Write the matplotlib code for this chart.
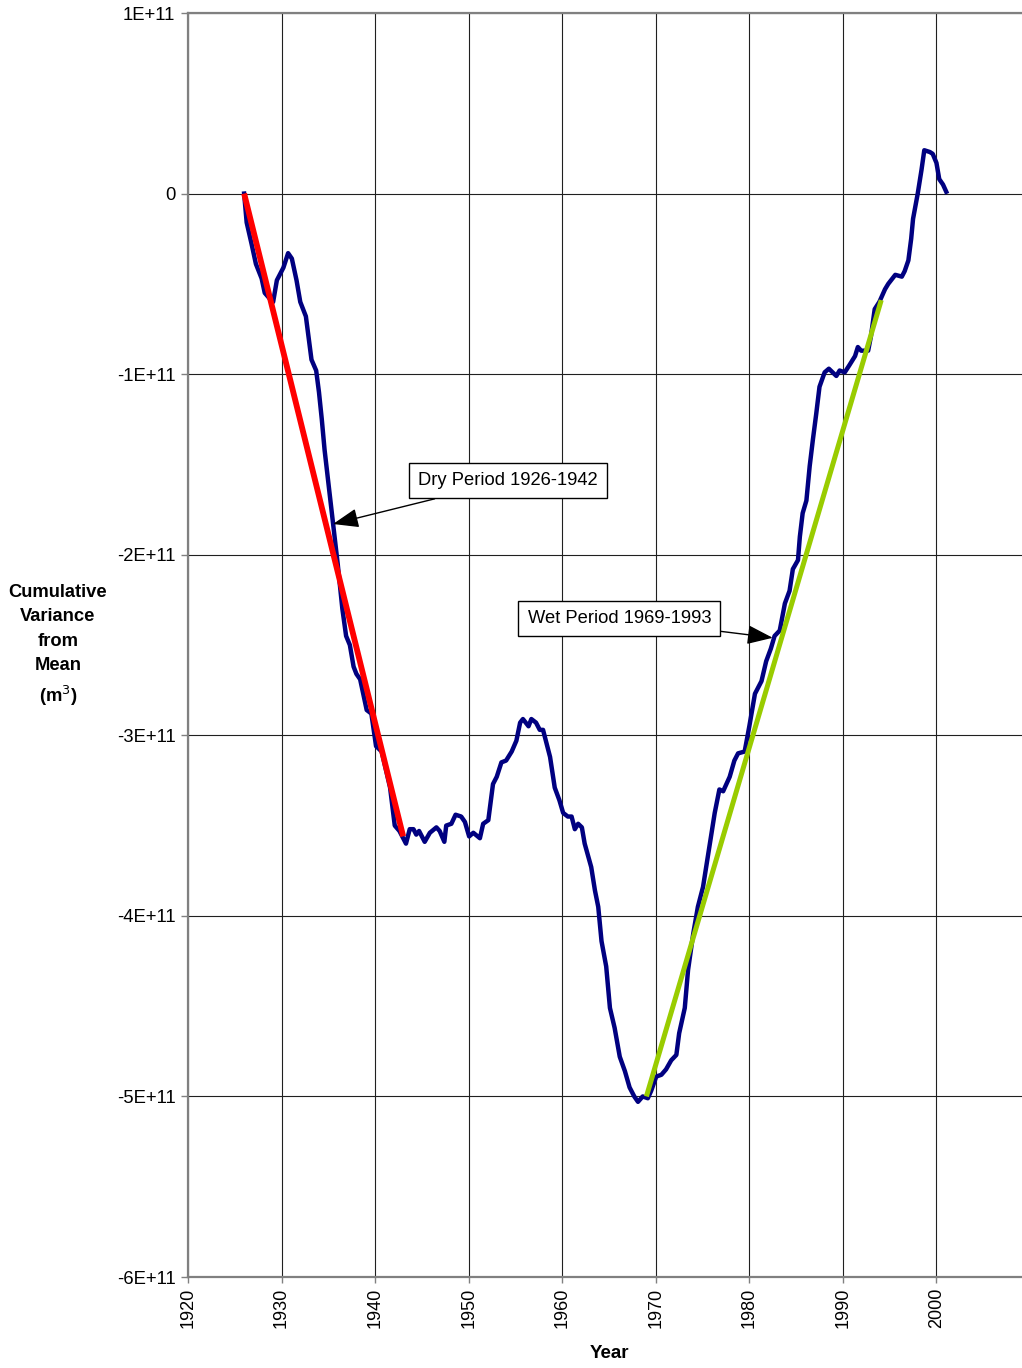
import numpy as np
import matplotlib
matplotlib.use("Agg")
import matplotlib.pyplot as plt
from matplotlib.ticker import FixedLocator, FuncFormatter

plt.rcParams['font.family'] = ['Liberation Sans', 'DejaVu Sans']

# cumulative variance from mean (units of 1E+11 m3)
years = [1926.0, 1926.27, 1926.8, 1927.26, 1927.87, 1928.2, 1928.7, 1929.1, 1929.5, 1930.2,
         1930.7, 1931.1, 1931.6, 1932.0, 1932.6, 1933.2, 1933.7, 1934.0, 1934.3, 1934.6,
         1935.0, 1935.5, 1936.0, 1936.4, 1936.5, 1936.9, 1937.3, 1937.7, 1938.0, 1938.4,
         1939.1, 1939.6, 1940.1, 1940.7, 1941.6, 1942.1, 1942.6, 1943.3, 1943.7, 1944.1,
         1944.4, 1944.7, 1945.3, 1945.85, 1946.55, 1946.9, 1947.4, 1947.6, 1948.15, 1948.6,
         1949.2, 1949.6, 1950.05, 1950.5, 1951.2, 1951.55, 1952.1, 1952.6, 1953.0, 1953.5,
         1954.0, 1954.6, 1955.1, 1955.5, 1955.8, 1956.4, 1956.7, 1957.2, 1957.6, 1957.95,
         1958.7, 1959.2, 1959.7, 1960.1, 1960.6, 1961.0, 1961.35, 1961.7, 1962.1, 1962.4,
         1963.1, 1963.5, 1963.85, 1964.2, 1964.7, 1965.1, 1965.6, 1966.15, 1966.7, 1967.2,
         1967.7, 1968.1, 1968.6, 1969.15, 1969.5, 1970.05, 1970.6, 1971.1, 1971.65, 1972.2,
         1972.5, 1973.1, 1973.45, 1974.0, 1974.5, 1975.05, 1975.6, 1975.9, 1976.3, 1976.8,
         1977.2, 1977.9, 1978.4, 1978.8, 1979.5, 1980.0, 1980.6, 1981.3, 1981.8, 1982.3,
         1982.7, 1983.25, 1983.8, 1984.3, 1984.65, 1985.2, 1985.4, 1985.7, 1986.1, 1986.45,
         1986.8, 1987.15, 1987.5, 1988.05, 1988.5, 1989.3, 1989.65, 1990.2, 1990.7, 1991.3,
         1991.6, 1991.95, 1992.7, 1993.0, 1993.4, 1993.9, 1994.5, 1994.85, 1995.6, 1996.3,
         1996.6, 1997.0, 1997.3, 1997.5, 1998.0, 1998.4, 1998.7, 1999.3, 1999.6, 2000.0,
         2000.3, 2000.7, 2001.05]
variance = [0.0, -0.16, -0.28, -0.39, -0.47, -0.55, -0.58, -0.60, -0.48, -0.41,
            -0.33, -0.36, -0.48, -0.60, -0.68, -0.92, -0.98, -1.10, -1.25, -1.42,
            -1.60, -1.82, -2.05, -2.25, -2.30, -2.45, -2.50, -2.62, -2.66, -2.69,
            -2.86, -2.88, -3.06, -3.09, -3.29, -3.50, -3.53, -3.60, -3.52, -3.52,
            -3.55, -3.53, -3.59, -3.54, -3.51, -3.53, -3.59, -3.50, -3.49, -3.44,
            -3.45, -3.48, -3.56, -3.54, -3.57, -3.49, -3.47, -3.27, -3.23, -3.15,
            -3.14, -3.09, -3.03, -2.93, -2.91, -2.95, -2.91, -2.93, -2.97, -2.97,
            -3.12, -3.29, -3.36, -3.43, -3.45, -3.45, -3.52, -3.49, -3.51, -3.60,
            -3.73, -3.86, -3.95, -4.14, -4.28, -4.51, -4.62, -4.78, -4.86, -4.95,
            -5.00, -5.03, -5.00, -5.01, -4.97, -4.89, -4.88, -4.85, -4.80, -4.77,
            -4.65, -4.51, -4.30, -4.10, -3.95, -3.84, -3.66, -3.56, -3.43, -3.30,
            -3.31, -3.23, -3.14, -3.10, -3.09, -2.95, -2.77, -2.70, -2.59, -2.52,
            -2.45, -2.42, -2.27, -2.20, -2.08, -2.03, -1.90, -1.77, -1.70, -1.51,
            -1.36, -1.22, -1.07, -0.99, -0.97, -1.01, -0.98, -0.99, -0.95, -0.90,
            -0.85, -0.87, -0.87, -0.79, -0.64, -0.60, -0.53, -0.50, -0.45, -0.46,
            -0.43, -0.37, -0.25, -0.14, 0.0, 0.13, 0.24, 0.23, 0.22, 0.17,
            0.08, 0.05, 0.01]

# trend lines for the dry and wet periods
dry_x = [1926.0, 1943.0]
dry_y = [0.0, -3.56]
wet_x = [1969.0, 1994.1]
wet_y = [-5.0, -0.59]

scale = 1e11
y_ticks = [1, 0, -1, -2, -3, -4, -5, -6]
x_ticks = [1920, 1930, 1940, 1950, 1960, 1970, 1980, 1990, 2000]

fig = plt.figure(figsize=(10.22, 13.68), dpi=100)
ax = fig.add_axes([188 / 1022, 1 - 1277 / 1368, 842 / 1022, 1264 / 1368])

ax.plot(years, np.array(variance) * scale, color='#000080', lw=3.2, solid_joinstyle='round', zorder=3)
ax.plot(dry_x, np.array(dry_y) * scale, color='#FF0000', lw=4.2, solid_capstyle='butt', zorder=4)
ax.plot(wet_x, np.array(wet_y) * scale, color='#99CC00', lw=3.6, solid_capstyle='butt', zorder=4)

ax.set_xlim(1920, 2010)
ax.set_ylim(-6 * scale, 1 * scale)
ax.xaxis.set_major_locator(FixedLocator(x_ticks + [2010]))
ax.yaxis.set_major_locator(FixedLocator([v * scale for v in y_ticks]))


def sci_label(v, pos):
    n = int(round(v / scale))
    if n == 0:
        return '0'
    return '%dE+11' % n


def year_label(v, pos):
    return '%d' % v if v < 2010 else ''


ax.yaxis.set_major_formatter(FuncFormatter(sci_label))
ax.xaxis.set_major_formatter(FuncFormatter(year_label))
ax.tick_params(axis='x', labelrotation=90, labelsize=13, length=4, width=1, color='#808080', pad=4)
ax.tick_params(axis='y', labelsize=13.3, length=5, width=1, color='#808080', pad=4)

ax.grid(True, color='#202020', lw=0.8)
ax.set_axisbelow(True)
for side in ['top', 'bottom', 'left', 'right']:
    ax.spines[side].set_color('#808080')
    ax.spines[side].set_linewidth(1.6)

box = dict(boxstyle='square,pad=0.5', fc='white', ec='black', lw=1.0)
arrow = dict(arrowstyle='-|>,head_length=1.2,head_width=0.45', color='black', lw=1.0,
             shrinkA=0, shrinkB=0)
ax.annotate('Dry Period 1926-1942', xy=(1935.5, -1.83 * scale), xytext=(1954.2, -1.59 * scale),
            ha='center', va='center', fontsize=13.2, bbox=box, arrowprops=arrow, zorder=5)
ax.annotate('Wet Period 1969-1993', xy=(1982.5, -2.46 * scale), xytext=(1966.1, -2.355 * scale),
            ha='center', va='center', fontsize=13.2, bbox=box, arrowprops=arrow, zorder=5)

fig.text(58 / 1022, 1 - 646 / 1368, 'Cumulative\nVariance\nfrom\nMean\n(m$^3$)',
         ha='center', va='center', fontsize=13.2, fontweight='bold', linespacing=1.55,
         multialignment='center')
fig.text(609 / 1022, 1 - 1354 / 1368, 'Year', ha='center', va='center',
         fontsize=13.5, fontweight='bold')

fig.savefig('out.png', dpi=100)
